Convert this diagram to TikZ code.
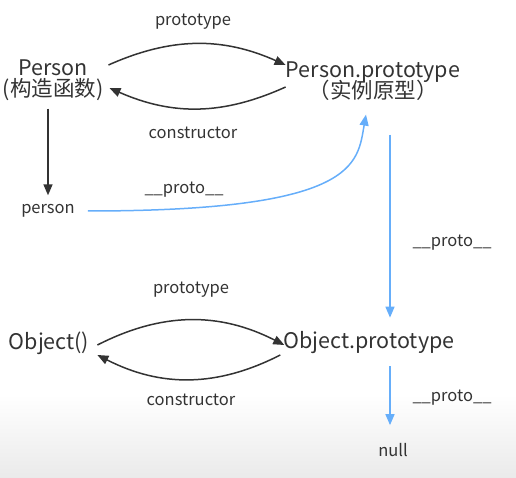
\documentclass[tikz,border=0pt]{standalone}
\usepackage{fontspec}
\setmainfont{Noto Sans CJK SC}
\usepackage{tikz}
\usepackage{xcolor}
\usetikzlibrary{arrows.meta,positioning,calc}
\definecolor{ink}{HTML}{333333}
\definecolor{link}{HTML}{66AEFA}
\definecolor{shadebg}{HTML}{EAEAEA}
\tikzset{
  bigtext/.style={text=ink, align=center, inner sep=2pt,
                  font=\fontsize{21.5}{25}\selectfont},
  smalltext/.style={text=ink, inner sep=1pt, font=\fontsize{16.5}{19}\selectfont},
  arrow/.style={-{Triangle[length=11pt,width=9pt]}, line width=1.5pt, draw=ink},
  protoarrow/.style={-{Triangle[length=11pt,width=9pt]}, line width=1.5pt, draw=link}
}

\begin{document}
\begin{tikzpicture}[x=1pt,y=1pt]
  \useasboundingbox (0,0) rectangle (516,-478);
  \shade[top color=white,bottom color=shadebg] (0,-395) rectangle (516,-478);
  % nodes
  \node[bigtext] (personfn) at (53,-80) {Person\\[-4pt](构造函数)};
  \node[bigtext] (personproto) at (373,-81) {Person.prototype\\[-4pt]（实例原型）};
  \node[smalltext] (person) at (48,-211) {person};
  \node[bigtext] (objectfn) at (49,-343) {Object()};
  \node[bigtext] (objectproto) at (369,-343) {Object.prototype};
  \node[smalltext] (nullval) at (393,-450) {null};
  % labels
  \node[smalltext] (lbla) at (193,-22) {prototype};
  \node[smalltext] (lblb) at (193,-133) {constructor};
  \node[smalltext] (lblc) at (184,-190) {\_\_proto\_\_};
  \node[smalltext] (lbld) at (452,-243) {\_\_proto\_\_};
  \node[smalltext] (lble) at (191,-290) {prototype};
  \node[smalltext] (lblf) at (191,-400) {constructor};
  \node[smalltext] (lblg) at (452,-398) {\_\_proto\_\_};
  % connectors
  \draw[arrow] ([xshift=3pt,yshift=15pt]personfn.east) to[bend left=24] ([xshift=2pt,yshift=16pt]personproto.west);
  \draw[arrow] ([xshift=2pt,yshift=-6pt]personproto.west) to[bend left=24] ([xshift=4pt,yshift=-8pt]personfn.east);
  \draw[arrow,shorten <=6pt,shorten >=8pt] (personfn.south -| person.north) -- (person.north);
  \draw[protoarrow] ([xshift=12pt]person.east) .. controls +(0:270) and +(-100:50) .. ([xshift=-7pt,yshift=-12pt]personproto.south);
  \draw[protoarrow] ([xshift=17pt,yshift=-32pt]personproto.south) -- ([xshift=21pt,yshift=12pt]objectproto.north);
  \draw[arrow] ([xshift=6pt,yshift=-2pt]objectfn.east) to[bend left=27] ([xshift=3pt,yshift=-2pt]objectproto.west);
  \draw[arrow] ([xshift=-1pt,yshift=-12pt]objectproto.west) to[bend left=27] ([xshift=6pt,yshift=-12pt]objectfn.east);
  \draw[protoarrow] ([xshift=21pt,yshift=-10pt]objectproto.south) -- ([xshift=-3pt,yshift=17pt]nullval.north);
\end{tikzpicture}
\end{document}
